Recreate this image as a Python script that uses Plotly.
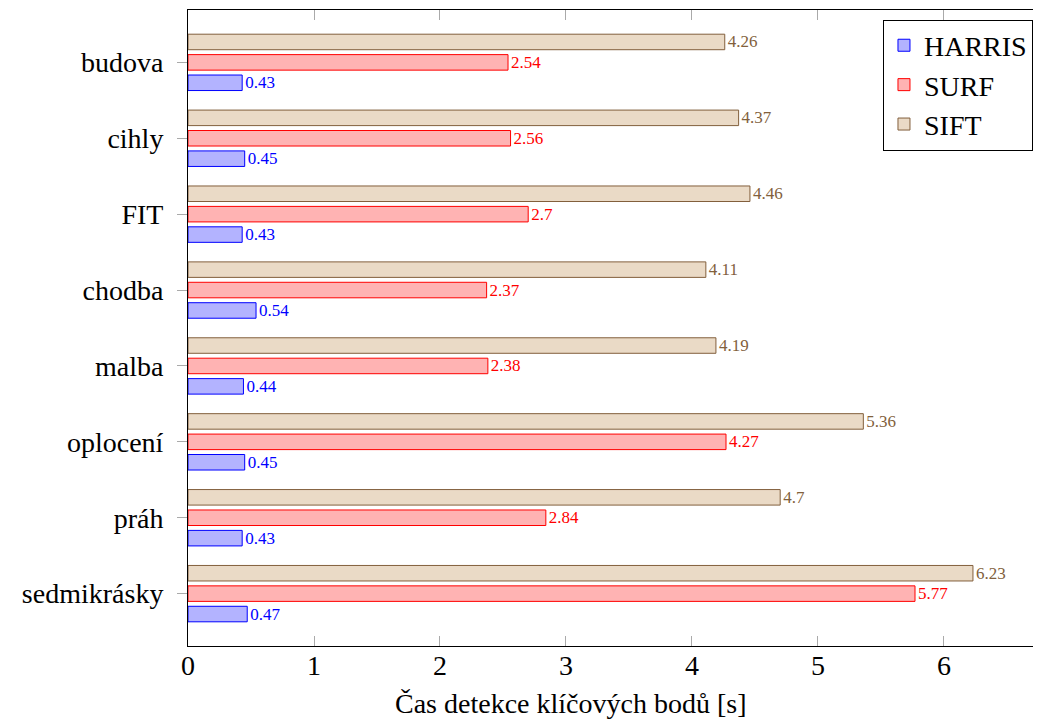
import plotly.graph_objects as go

categories = ["budova", "cihly", "FIT", "chodba", "malba", "oplocení", "práh", "sedmikrásky"]
harris = [0.43, 0.45, 0.43, 0.54, 0.44, 0.45, 0.43, 0.47]
surf = [2.54, 2.56, 2.7, 2.37, 2.38, 4.27, 2.84, 5.77]
sift = [4.26, 4.37, 4.46, 4.11, 4.19, 5.36, 4.7, 6.23]
x_ticks = [0, 1, 2, 3, 4, 5, 6]
x_title = "Čas detekce klíčových bodů [s]"

FONT = "'Liberation Serif', 'Times New Roman', serif"

series = [
    ("SIFT", sift, "rgb(234,218,198)", "rgb(130,95,60)"),
    ("SURF", surf, "rgb(255,179,179)", "rgb(255,0,0)"),
    ("HARRIS", harris, "rgb(179,179,255)", "rgb(0,0,255)"),
]

fig = go.Figure()
for name, vals, fill, edge in series:
    fig.add_trace(go.Bar(
        name=name, y=categories, x=vals, orientation="h",
        marker=dict(color=fill, line=dict(color=edge, width=1)),
        text=[f"{v:g}" for v in vals], textposition="outside",
        textfont=dict(family=FONT, size=17, color=edge),
        cliponaxis=False, constraintext="none",
    ))

# page body has an 8px margin, so the figure is 8px smaller than the window
fig.update_layout(
    width=1033, height=718,
    margin=dict(l=180, r=0, t=2, b=80, autoexpand=False),
    paper_bgcolor="white", plot_bgcolor="white",
    barmode="group", bargap=0.193, bargroupgap=0.24,
    font=dict(family=FONT, size=28, color="black"),
    showlegend=True,
    legend=dict(
        traceorder="reversed",
        x=0.9906, xanchor="right", y=0.985, yanchor="top",
        bordercolor="black", borderwidth=1, bgcolor="white",
        font=dict(family=FONT, size=28),
    ),
    xaxis=dict(
        range=[0, 6.77], tickvals=x_ticks, ticktext=[str(t) for t in x_ticks],
        showgrid=False, zeroline=False, automargin=False,
        showline=True, linecolor="black", linewidth=1, mirror="ticks",
        ticks="inside", ticklen=10, tickcolor="#aaaaaa",
        ticklabelstandoff=-6,
        tickfont=dict(family=FONT, size=28),
    ),
    yaxis=dict(
        type="category", categoryorder="array", categoryarray=categories,
        range=[7.69, -0.69], automargin=False,
        showgrid=False, zeroline=False,
        showline=True, linecolor="black", linewidth=1, mirror="ticks",
        ticks="outside", ticklen=10, tickcolor="#aaaaaa",
        ticklabelstandoff=8,
        tickfont=dict(family=FONT, size=28),
    ),
    annotations=[dict(
        text=x_title, xref="paper", yref="paper",
        x=(570 - 188) / 853, y=-0.09, xanchor="center", yanchor="middle",
        showarrow=False, font=dict(family=FONT, size=28),
    )],
)

fig.write_html("out.html")
